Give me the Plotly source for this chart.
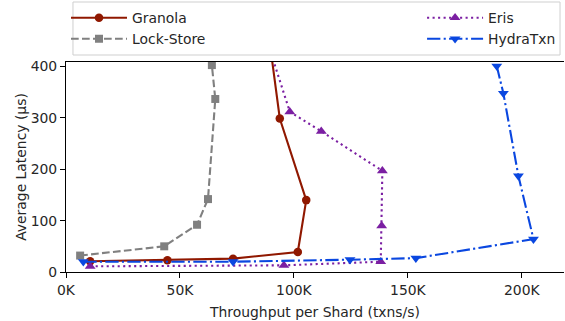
import plotly.graph_objects as go

# ---- data (throughput in txns/s, latency in microseconds) ----
granola_x = [10600, 44500, 73300, 101700, 105400, 93800, 87800]
granola_y = [21, 23, 26, 39, 140, 299, 500]

lock_x = [6200, 43100, 57500, 62300, 65500, 64000]
lock_y = [32, 50, 92, 142, 337, 403]

eris_x = [10600, 95600, 138100, 138500, 138800, 112000, 98200, 84600]
eris_y = [11, 13, 20, 90, 197, 274, 312, 500]

hydra_x = [7600, 73300, 124600, 153500, 205100, 198500, 191900, 189000]
hydra_y = [20, 20, 24, 27, 64, 187, 348, 401]

x_tickvals = [0, 50000, 100000, 150000, 200000]
x_ticktext = ["0K", "50K", "100K", "150K", "200K"]
y_tickvals = [0, 100, 200, 300, 400]

FONT = "DejaVu Sans"
FS = 13.9

fig = go.Figure()
fig.add_trace(go.Scatter(x=granola_x, y=granola_y, name="Granola", mode="lines+markers",
                         line=dict(color="#901800", width=2.1),
                         marker=dict(symbol="circle", size=8.5, color="#901800"),
                         legend="legend"))
fig.add_trace(go.Scatter(x=lock_x, y=lock_y, name="Lock-Store", mode="lines+markers",
                         line=dict(color="#808080", width=2.1, dash="7.7px,3.3px"),
                         marker=dict(symbol="square", size=8, color="#808080"),
                         legend="legend"))
fig.add_trace(go.Scatter(x=eris_x, y=eris_y, name="Eris", mode="lines+markers",
                         line=dict(color="#7b1fa2", width=2.1, dash="2.1px,3.4px"),
                         marker=dict(symbol="triangle-up", size=9.5, color="#7b1fa2"),
                         legend="legend2"))
fig.add_trace(go.Scatter(x=hydra_x, y=hydra_y, name="HydraTxn", mode="lines+markers",
                         line=dict(color="#0a47e0", width=2.1, dash="13.3px,3.3px,2.1px,3.3px"),
                         marker=dict(symbol="triangle-down", size=9.5, color="#0a47e0"),
                         legend="legend2"))

axis_common = dict(showgrid=False, zeroline=False, showline=True, linecolor="black",
                   linewidth=1.1, ticks="outside", ticklen=5, tickwidth=1.1, automargin=False,
                   tickcolor="black", tickfont=dict(family=FONT, size=FS, color="#262626"))

legend_common = dict(xanchor="left", yanchor="top", bgcolor="rgba(0,0,0,0)",
                     borderwidth=0, itemwidth=56,
                     font=dict(family=FONT, size=FS), tracegroupgap=0)

fig.update_layout(
    width=565, height=321,
    margin=dict(l=66, r=1, t=62, b=49),
    paper_bgcolor="white", plot_bgcolor="white",
    font=dict(family=FONT, size=FS, color="#262626"),
    xaxis=dict(range=[0, 218500], tickvals=x_tickvals, ticktext=x_ticktext, mirror=True,
               title=dict(text="Throughput per Shard (txns/s)", standoff=10,
                          font=dict(family=FONT, size=FS)),
               **axis_common),
    yaxis=dict(range=[0, 409], tickvals=y_tickvals,
               title=dict(text="Average Latency (μs)", standoff=0,
                          font=dict(family=FONT, size=FS)),
               **axis_common),
    legend=dict(x=0.0, y=1.285, **legend_common),
    legend2=dict(x=0.715, y=1.285, **legend_common),
    shapes=[dict(type="rect", xref="paper", yref="paper", x0=0.014, x1=0.992,
                 y0=1.0333, y1=1.2857, line=dict(color="#cfcfcf", width=1),
                 fillcolor="rgba(0,0,0,0)", layer="above")],
)

fig.write_html("out.html", config={"displayModeBar": False},
               post_script="document.body.style.margin='0';")
